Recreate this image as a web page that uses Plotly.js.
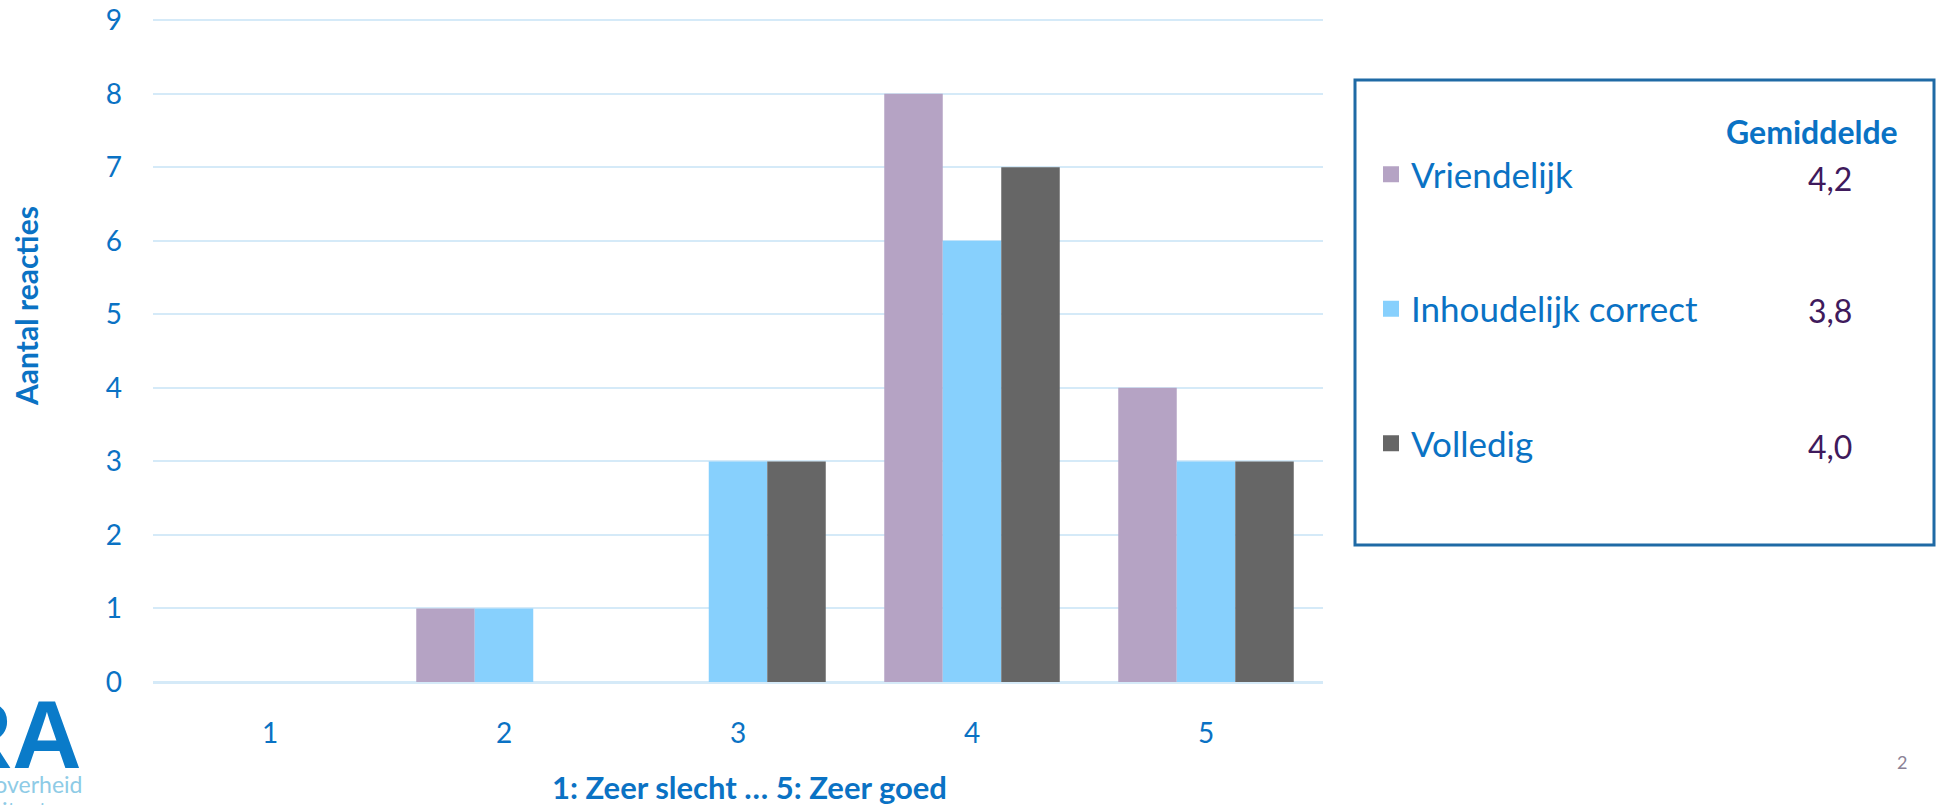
<!DOCTYPE html>
<html>
<head>
<meta charset="utf-8">
<script src="https://cdn.plot.ly/plotly-3.0.1.min.js"></script>
<style>
  html, body { margin: 0; padding: 0; background: #ffffff; }
  #chart { width: 1937px; height: 805px; }
</style>
</head>
<body>
<div id="chart"></div>
<script>
// ---- data ----
const categories = ['1', '2', '3', '4', '5'];
const seriesNames = ['Vriendelijk', 'Inhoudelijk correct', 'Volledig'];
const vriendelijk = [0, 1, 0, 8, 4];
const inhoudelijk = [0, 1, 3, 6, 3];
const volledig = [0, 0, 3, 7, 3];
const gemiddelde = ['4,2', '3,8', '4,0'];
const yTicks = [0, 1, 2, 3, 4, 5, 6, 7, 8, 9];
const xTitle = '1: Zeer slecht … 5: Zeer goed';
const yTitle = 'Aantal reacties';
const meanHeader = 'Gemiddelde';

// ---- styles ----
const colors = ['#b5a3c4', '#87d0fd', '#666666'];
const blue = '#0a72c4';
const FONT = 'Lato, "Open Sans", sans-serif';
const seriesValues = [vriendelijk, inhoudelijk, volledig];

// geometry (pixels) for paper conversion
const W = 1937, H = 805;
const L = 153, R = 614, T = 18, B = 123;
const pw = W - L - R, ph = H - T - B;
const px = x => (x - L) / pw;
const py = y => (H - B - y) / ph;

const traces = [];
seriesValues.forEach((vals, i) => {
  traces.push({
    type: 'bar',
    name: seriesNames[i],
    x: categories,
    y: vals,
    marker: { color: colors[i], line: { width: 0 } },
    showlegend: false,
    hoverinfo: 'x+y+name'
  });
});
// legend entries (larger square swatches)
seriesValues.forEach((vals, i) => {
  traces.push({
    type: 'scatter',
    mode: 'markers',
    name: seriesNames[i],
    x: [null],
    y: [null],
    legendgroup: 'g' + i,
    marker: { color: colors[i], symbol: 'square', size: 16 },
    showlegend: true,
    hoverinfo: 'skip'
  });
});

const meanY = [178, 310, 446];
const annotations = [
  { text: '<b>' + yTitle + '</b>', textangle: -90, xref: 'paper', yref: 'paper',
    x: px(26), y: py(306), xanchor: 'center', yanchor: 'middle', showarrow: false,
    font: { family: FONT, size: 30, color: blue } },
  { text: '<b>' + xTitle + '</b>', xref: 'paper', yref: 'paper',
    x: px(749), y: py(787), xanchor: 'center', yanchor: 'middle', showarrow: false,
    font: { family: FONT, size: 31, color: blue } },
  { text: '<b>' + meanHeader + '</b>', xref: 'paper', yref: 'paper',
    x: px(1812), y: py(131), xanchor: 'center', yanchor: 'middle', showarrow: false,
    font: { family: FONT, size: 32, color: blue } },
  // logo fragment & page number
  { text: '<b>NORA</b>', xref: 'paper', yref: 'paper',
    x: px(84), y: py(734), xanchor: 'right', yanchor: 'middle', showarrow: false,
    font: { family: 'Liberation Sans, Arial, sans-serif', size: 96, color: '#0a7bc9' } },
  { text: 'Nederlandse overheid', xref: 'paper', yref: 'paper',
    x: px(84), y: py(784), xanchor: 'right', yanchor: 'middle', showarrow: false,
    font: { family: FONT, size: 23, color: '#8ecbe6' } },
  { text: 'Referentie Architectuur', xref: 'paper', yref: 'paper',
    x: px(84), y: py(810), xanchor: 'right', yanchor: 'middle', showarrow: false,
    font: { family: FONT, size: 23, color: '#8ecbe6' } },
  { text: '2', xref: 'paper', yref: 'paper',
    x: px(1902), y: py(762), xanchor: 'center', yanchor: 'middle', showarrow: false,
    font: { family: FONT, size: 18, color: '#8b8296' } }
];
gemiddelde.forEach((g, i) => {
  annotations.push({ text: g, xref: 'paper', yref: 'paper',
    x: px(1830), y: py(meanY[i]), xanchor: 'center', yanchor: 'middle', showarrow: false,
    font: { family: FONT, size: 32, color: '#3f1a5c' } });
});

const layout = {
  width: W, height: H,
  margin: { l: L, r: R, t: T, b: B, pad: 0 },
  paper_bgcolor: '#ffffff', plot_bgcolor: '#ffffff',
  font: { family: FONT, color: blue },
  barmode: 'group',
  bargap: 0.25,
  bargroupgap: 0,
  xaxis: {
    type: 'category',
    categoryarray: categories,
    showgrid: false, zeroline: false, showline: false, ticks: '',
    tickfont: { family: FONT, size: 28, color: blue },
    ticklabelstandoff: 32
  },
  yaxis: {
    range: [0, 9.03],
    tickvals: yTicks,
    ticktext: yTicks.map(String),
    showgrid: true, gridcolor: '#d5eaf8', gridwidth: 2,
    zeroline: true, zerolinecolor: '#d5eaf8', zerolinewidth: 3,
    showline: false, ticks: '',
    tickfont: { family: FONT, size: 28, color: blue },
    ticklabelstandoff: 30,
    fixedrange: true
  },
  showlegend: true,
  legend: {
    x: px(1371), y: py(145), xanchor: 'left', yanchor: 'top',
    bgcolor: 'rgba(0,0,0,0)', borderwidth: 0,
    font: { family: FONT, size: 35, color: blue },
    tracegroupgap: 86,
    itemclick: false, itemdoubleclick: false
  },
  shapes: [
    { type: 'rect', xref: 'paper', yref: 'paper',
      x0: px(1355), x1: px(1934), y0: py(80), y1: py(545),
      line: { color: '#1f6aa5', width: 3 }, fillcolor: 'rgba(0,0,0,0)' }
  ],
  annotations: annotations
};

Plotly.newPlot('chart', traces, layout, { displayModeBar: false, staticPlot: true });
</script>
</body>
</html>
